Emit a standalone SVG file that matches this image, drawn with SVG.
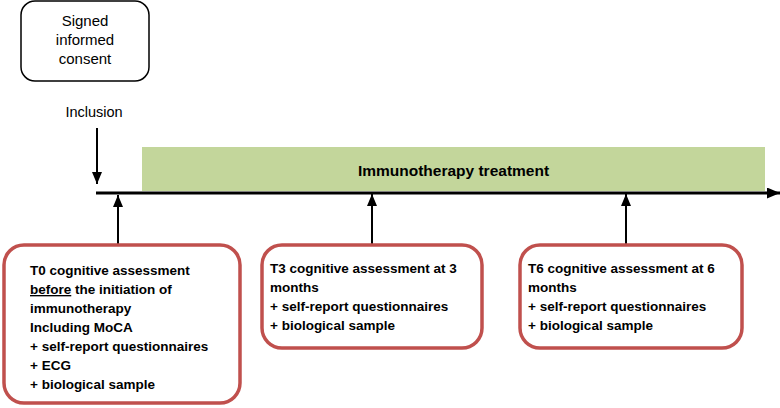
<svg xmlns="http://www.w3.org/2000/svg" width="780" height="408" viewBox="0 0 780 408">
<style>
.reg{font-family:"Liberation Sans",Arial,sans-serif;font-size:15px;fill:#000}
.bold{font-family:"Liberation Sans",Arial,sans-serif;font-size:13.5px;font-weight:bold;fill:#000}
.red{fill:#fff;stroke:#c0504d;stroke-width:3.5}
.arr{stroke:#000;stroke-width:2;fill:none}
</style>
<defs>
<marker id="ah" markerUnits="userSpaceOnUse" markerWidth="12" markerHeight="10" refX="12" refY="5" orient="auto">
<path d="M0,0 L12,5 L0,10 z" fill="#000"/>
</marker>
<marker id="ahBig" markerUnits="userSpaceOnUse" markerWidth="13" markerHeight="11" refX="13" refY="5.5" orient="auto">
<path d="M0,0 L13,5.5 L0,11 z" fill="#000"/>
</marker>
</defs>
<rect width="780" height="408" fill="#fff"/>
<g id="consent">
<rect x="21" y="1" width="128" height="80" rx="14" ry="14" fill="#fff" stroke="#000" stroke-width="1.5"/>
<text class="reg" text-anchor="middle" x="85" y="26">Signed</text>
<text class="reg" text-anchor="middle" x="85" y="45">informed</text>
<text class="reg" text-anchor="middle" x="85" y="64">consent</text>
</g>
<g id="inclusion">
<text class="reg" font-size="14.5" text-anchor="middle" x="94" y="117" style="font-size:14.5px">Inclusion</text>
</g>
<g id="treatment">
<rect x="142" y="147" width="623" height="44" fill="#c3d69b"/>
<text x="453.5" y="176" text-anchor="middle" style="font-family:'Liberation Sans',Arial,sans-serif;font-size:15.5px;font-weight:bold">Immunotherapy treatment</text>
</g>
<g id="connectors">
<line x1="96" y1="193" x2="780" y2="193" stroke="#000" stroke-width="3" marker-end="url(#ahBig)"/>
<line class="arr" x1="97" y1="128" x2="97" y2="184" marker-end="url(#ah)"/>
<line class="arr" x1="118" y1="245" x2="118" y2="195" marker-end="url(#ah)"/>
<line class="arr" x1="372" y1="245" x2="372" y2="194" marker-end="url(#ah)"/>
<line class="arr" x1="626" y1="245" x2="626" y2="194" marker-end="url(#ah)"/>
</g>
<g id="t0">
<rect class="red" x="4" y="245" width="236" height="158" rx="20" ry="20"/>
<text class="bold" x="30" y="275">T0 cognitive assessment</text>
<text class="bold" x="30" y="294"><tspan text-decoration="underline">before</tspan> the initiation of</text>
<text class="bold" x="30" y="313">immunotherapy</text>
<text class="bold" x="30" y="332">Including MoCA</text>
<text class="bold" x="30" y="351">+ self-report questionnaires</text>
<text class="bold" x="30" y="370">+ ECG</text>
<text class="bold" x="30" y="389">+ biological sample</text>
</g>
<g id="t3">
<rect class="red" x="262" y="245" width="220" height="103" rx="20" ry="20"/>
<text class="bold" x="270" y="273">T3 cognitive assessment at 3</text>
<text class="bold" x="270" y="292">months</text>
<text class="bold" x="270" y="311">+ self-report questionnaires</text>
<text class="bold" x="270" y="330">+ biological sample</text>
</g>
<g id="t6">
<rect class="red" x="520" y="245" width="222" height="103" rx="20" ry="20"/>
<text class="bold" x="528" y="273">T6 cognitive assessment at 6</text>
<text class="bold" x="528" y="292">months</text>
<text class="bold" x="528" y="311">+ self-report questionnaires</text>
<text class="bold" x="528" y="330">+ biological sample</text>
</g>
</svg>
